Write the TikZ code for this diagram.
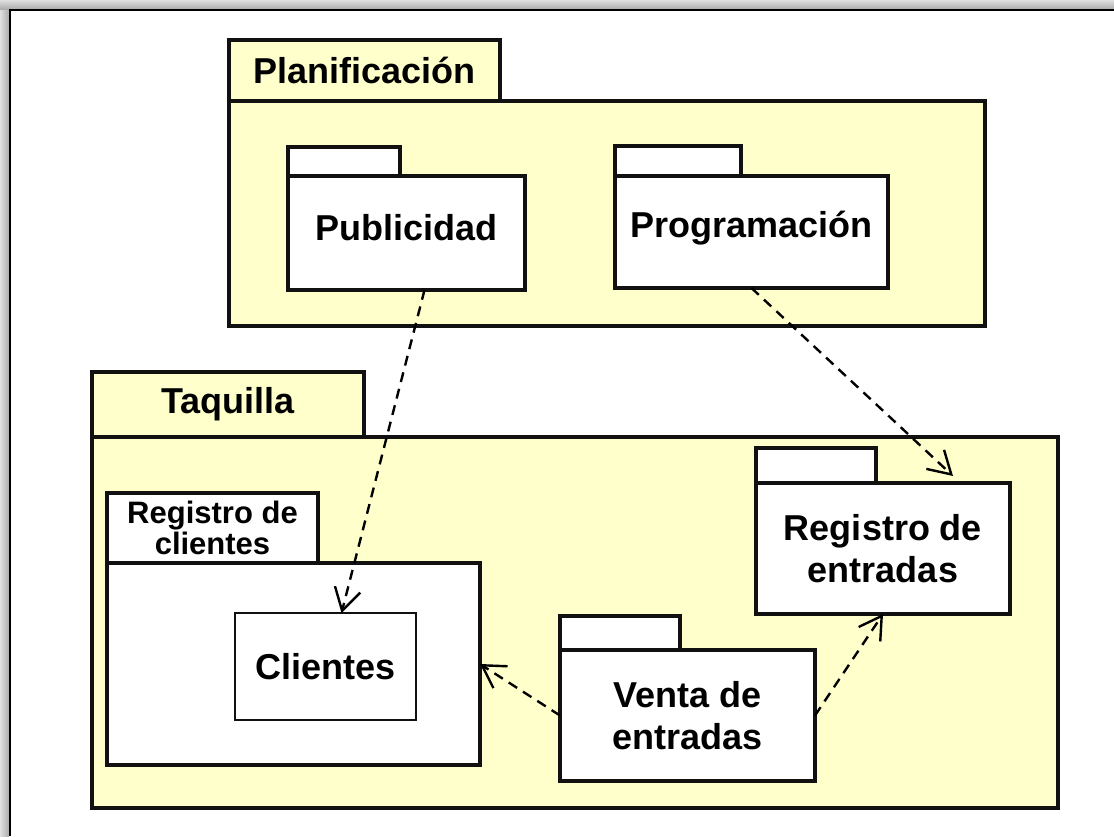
\documentclass[tikz,border=0pt]{standalone}
\usepackage{fontspec}
\setmainfont{Liberation Sans}
\usepackage{xcolor}
\usepackage{tikz}
\usetikzlibrary{arrows.meta,positioning}
\definecolor{pkgyellow}{HTML}{FFFFCC}
\definecolor{pkgframe}{HTML}{111111}
\tikzset{
    pkgbody/.style={rectangle, draw=pkgframe, fill=#1,
        line width=1.6pt, outer sep=0pt, inner sep=0pt,
        align=center, font=\bfseries\fontsize{18}{21}\selectfont},
    pkgtab/.style={rectangle, draw=pkgframe, fill=#1,
        line width=1.6pt, outer sep=0pt, inner sep=0pt,
        align=center, anchor=south west,
        font=\bfseries\fontsize{18}{21}\selectfont},
    classbox/.style={rectangle, draw=pkgframe, fill=white,
        line width=1.1pt, outer sep=0pt,
        font=\bfseries\fontsize{18}{21}\selectfont},
    depends/.style={-{Straight Barb[length=11pt,width=13pt]},
        line width=1.2pt, dash pattern=on 5pt off 3.5pt},
}
\begin{document}
\begin{tikzpicture}[x=0.5pt,y=-0.5pt]
    \useasboundingbox (0,0) rectangle (1114,836);

    % ── Window frame ───────────────────────────────────────────────────────
    \fill[left color=gray!25, right color=gray!65] (0,0) rectangle (9,836);
    \fill[top color=gray!25, bottom color=gray!65] (0,0) rectangle (1114,9);
    \draw[line width=1pt] (9.5,836) -- (9.5,9.5) -- (1114,9.5);

    % ── Planificación ──────────────────────────────────────────────────────
    \node[pkgbody=pkgyellow, minimum width=378pt, minimum height=112.5pt]
        (plan) at (607,213.5) {};
    \node[pkgtab=pkgyellow, minimum width=135.5pt, minimum height=30.5pt,
          above right=0pt and 0pt of plan.north west] (plantab)
        {Planificación};

    \node[pkgbody=white, minimum width=118.5pt, minimum height=57pt,
          text depth=6pt]
        (pub) at (406.5,233) {Publicidad};
    \node[pkgtab=white, minimum width=56pt, minimum height=14.5pt,
          above right=0pt and 0pt of pub.north west] (pubtab) {};

    \node[pkgbody=white, minimum width=136.5pt, minimum height=56pt,
          text depth=8pt]
        (prog) at (751.5,232) {Programación};
    \node[pkgtab=white, minimum width=63pt, minimum height=15pt,
          above right=0pt and 0pt of prog.north west] (progtab) {};

    % ── Taquilla ───────────────────────────────────────────────────────────
    \node[pkgbody=pkgyellow, minimum width=483pt, minimum height=185.5pt]
        (taq) at (575,622.5) {};
    \node[pkgtab=pkgyellow, minimum width=136pt, minimum height=32.5pt,
          above right=0pt and 0pt of taq.north west] (taqtab)
        {Taquilla};

    \node[pkgbody=white, minimum width=186.5pt, minimum height=101pt]
        (regcli) at (293.5,664) {};
    \node[pkgtab=white, minimum width=105.5pt, minimum height=35pt,
          font=\bfseries\fontsize{15.5}{13.5}\selectfont,
          above right=0pt and 0pt of regcli.north west] (regclitab)
        {Registro de\\clientes};

    \node[classbox, minimum width=90.5pt, minimum height=53.5pt]
        (cli) at (325.5,666.5) {Clientes};

    \node[pkgbody=white, minimum width=127pt, minimum height=65.5pt]
        (regent) at (883,548.5) {Registro de\\entradas};
    \node[pkgtab=white, minimum width=60pt, minimum height=17.5pt,
          above right=0pt and 0pt of regent.north west] (regenttab) {};

    \node[pkgbody=white, minimum width=127.5pt, minimum height=65.5pt]
        (venta) at (687.5,715.5) {Venta de\\entradas};
    \node[pkgtab=white, minimum width=60pt, minimum height=17pt,
          above right=0pt and 0pt of venta.north west] (ventatab) {};

    % ── Dependencies ───────────────────────────────────────────────────────
    \draw[depends] ([xshift=9pt]pub.south) -- ([xshift=8pt]cli.north);
    \draw[depends] (prog.south) -- ([xshift=35pt,yshift=3.5pt]regent.north);
    \draw[depends] (venta.west) -- (regcli.east);
    \draw[depends] (venta.east) -- (regent.south);

\end{tikzpicture}
\end{document}
